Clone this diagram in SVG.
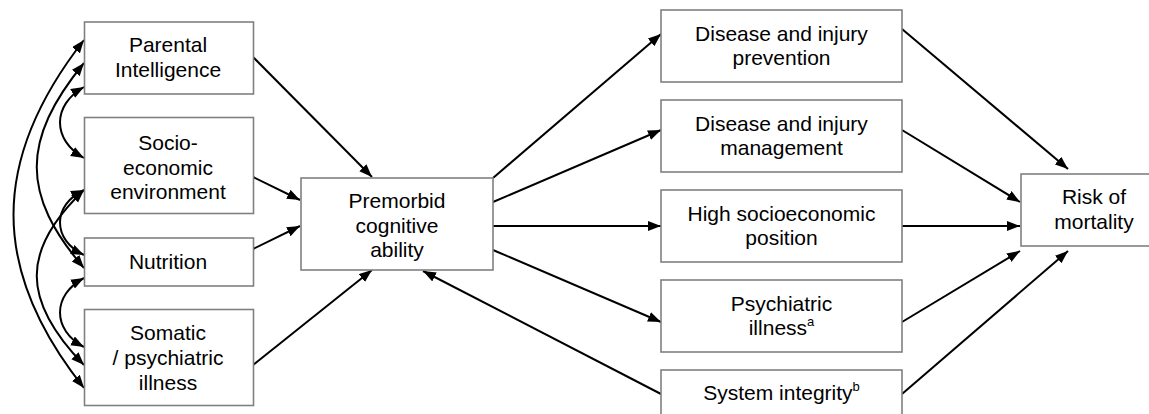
<svg xmlns="http://www.w3.org/2000/svg" width="1149" height="414" viewBox="0 0 1149 414">
<style>
.box{fill:#fff;stroke:#808080;stroke-width:1.6}
.t{font-family:"Liberation Sans",Arial,sans-serif;font-size:21px;fill:#000;text-anchor:middle}
.c{fill:none;stroke:#000;stroke-width:2}
</style>
<defs>
<marker id="ah" markerUnits="userSpaceOnUse" markerWidth="14" markerHeight="11" refX="13" refY="5" orient="auto-start-reverse">
<path d="M0,0 L13,5 L0,10 z" fill="#000"/>
</marker>
</defs>
<rect width="1149" height="414" fill="#fff"/>
<g id="connectors">
<path class="c" d="M84,40 C-10,160 -10,270 84,388" marker-start="url(#ah)" marker-end="url(#ah)"/>
<path class="c" d="M84,63 C21,140 21,195 84,268" marker-start="url(#ah)" marker-end="url(#ah)"/>
<path class="c" d="M84,87 C52,105 52,140 84,158" marker-start="url(#ah)" marker-end="url(#ah)"/>
<path class="c" d="M84,190 C52,205 52,240 84,255" marker-start="url(#ah)" marker-end="url(#ah)"/>
<path class="c" d="M84,190 C21,250 21,300 84,365" marker-start="url(#ah)" marker-end="url(#ah)"/>
<path class="c" d="M84,278 C52,295 52,330 84,347" marker-start="url(#ah)" marker-end="url(#ah)"/>
<path class="c" d="M253,57 L372,177" marker-end="url(#ah)"/>
<path class="c" d="M253,177 L300,200" marker-end="url(#ah)"/>
<path class="c" d="M253,249 L300,226" marker-end="url(#ah)"/>
<path class="c" d="M253,365 L372,270" marker-end="url(#ah)"/>
<path class="c" d="M493,178 L661,34" marker-end="url(#ah)"/>
<path class="c" d="M493,202 L661,130" marker-end="url(#ah)"/>
<path class="c" d="M493,226 L661,226" marker-end="url(#ah)"/>
<path class="c" d="M493,250 L661,322" marker-end="url(#ah)"/>
<path class="c" d="M661,394 L423,271" marker-end="url(#ah)"/>
<path class="c" d="M902,29 L1068,169" marker-end="url(#ah)"/>
<path class="c" d="M902,130 L1020,202" marker-end="url(#ah)"/>
<path class="c" d="M902,226 L1020,226" marker-end="url(#ah)"/>
<path class="c" d="M902,322 L1020,251" marker-end="url(#ah)"/>
<path class="c" d="M902,394 L1068,251" marker-end="url(#ah)"/>
</g>
<g id="parental">
<rect class="box" x="84.5" y="22" width="169" height="72"/>
<text class="t" x="168" y="52">Parental</text>
<text class="t" x="168" y="77">Intelligence</text>
</g>
<g id="socio">
<rect class="box" x="84.5" y="117.5" width="169" height="96"/>
<text class="t" x="168" y="150">Socio-</text>
<text class="t" x="168" y="175">economic</text>
<text class="t" x="168" y="199">environment</text>
</g>
<g id="nutrition">
<rect class="box" x="84.5" y="238" width="169" height="48"/>
<text class="t" x="168" y="269">Nutrition</text>
</g>
<g id="somatic">
<rect class="box" x="84.5" y="309.5" width="169" height="96"/>
<text class="t" x="168" y="340">Somatic</text>
<text class="t" x="168" y="365">/ psychiatric</text>
<text class="t" x="168" y="390">illness</text>
</g>
<g id="premorbid">
<rect class="box" x="301" y="178" width="192" height="92"/>
<text class="t" x="397" y="208">Premorbid</text>
<text class="t" x="397" y="233">cognitive</text>
<text class="t" x="397" y="257">ability</text>
</g>
<g id="prevention">
<rect class="box" x="661" y="10" width="241" height="72"/>
<text class="t" x="781.5" y="41">Disease and injury</text>
<text class="t" x="781.5" y="65">prevention</text>
</g>
<g id="management">
<rect class="box" x="661" y="100" width="241" height="72"/>
<text class="t" x="781.5" y="131">Disease and injury</text>
<text class="t" x="781.5" y="155">management</text>
</g>
<g id="ses">
<rect class="box" x="661" y="190" width="241" height="72"/>
<text class="t" x="781.5" y="221">High socioeconomic</text>
<text class="t" x="781.5" y="245">position</text>
</g>
<g id="psychiatric">
<rect class="box" x="661" y="280" width="241" height="72"/>
<text class="t" x="781.5" y="311">Psychiatric</text>
<text class="t" x="781.5" y="335">illness<tspan font-size="13" dy="-9">a</tspan></text>
</g>
<g id="system">
<rect class="box" x="661" y="370" width="241" height="72"/>
<text class="t" x="781.5" y="400">System integrity<tspan font-size="13" dy="-9">b</tspan></text>
</g>
<g id="risk">
<rect class="box" x="1021" y="174" width="147" height="72"/>
<text class="t" x="1094" y="204">Risk of</text>
<text class="t" x="1094" y="229">mortality</text>
</g>
</svg>
